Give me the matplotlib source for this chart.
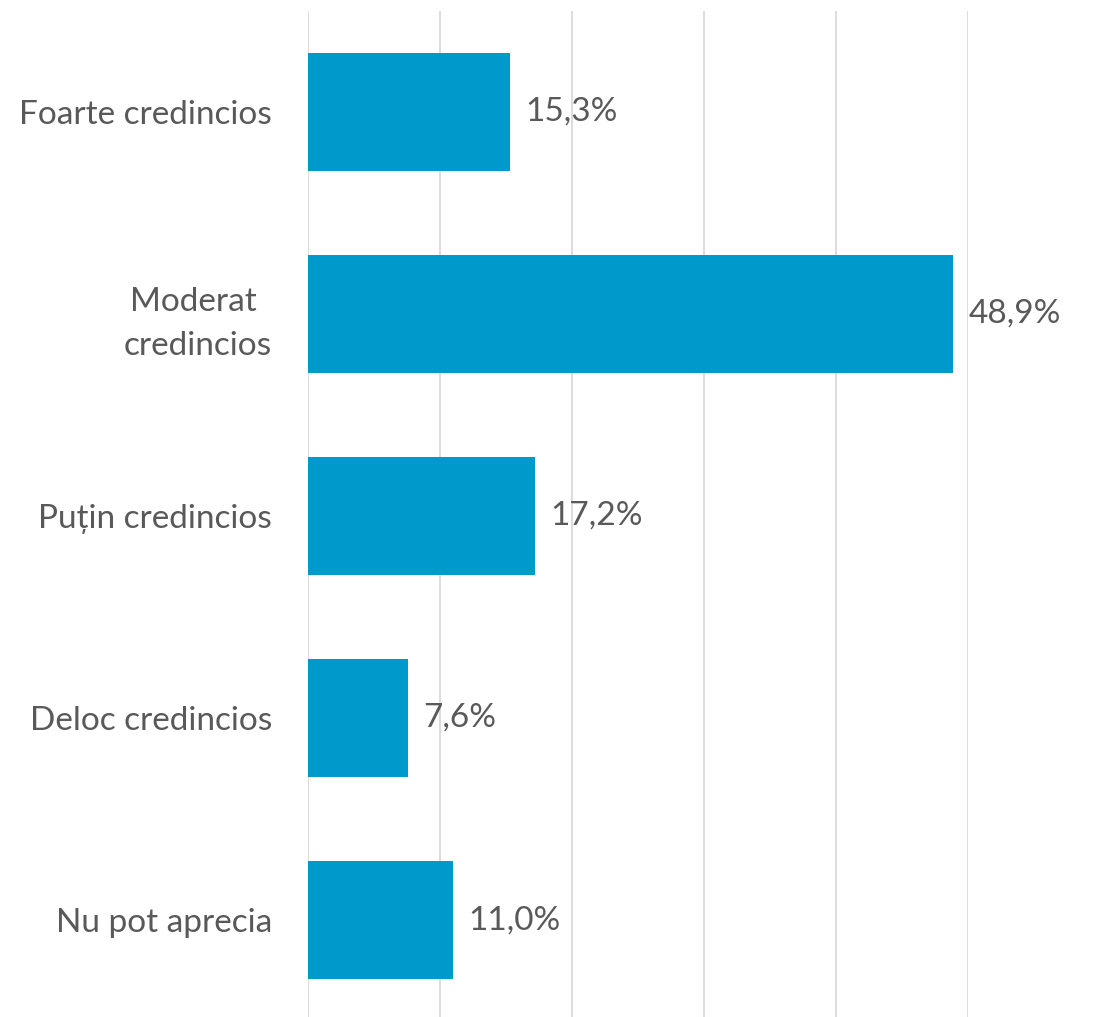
import matplotlib
matplotlib.use("Agg")
import matplotlib.pyplot as plt

categories = ["Foarte credincios", "Moderat \ncredincios", "Puțin credincios", "Deloc credincios", "Nu pot aprecia"]
values = [15.3, 48.9, 17.2, 7.6, 11.0]
value_labels = ["15,3%", "48,9%", "17,2%", "7,6%", "11,0%"]
xticks = [0, 10, 20, 30, 40, 50]

plt.rcParams['font.family'] = ['Lato', 'DejaVu Sans']
text_color = "#595959"

fig = plt.figure(figsize=(10.94, 10.17), dpi=100)
ax = fig.add_axes([308/1094, 0, 660/1094, 1 - 11/1017])

y = list(range(len(categories)))
ax.barh(y, values, height=0.58, color="#0099CC", zorder=3)
for yi, v, lab in zip(y, values, value_labels):
    ax.text(v + 1.15, yi, lab, va="center", ha="left", fontsize=24, color=text_color)

ax.set_xlim(0, 50)
ax.set_ylim(4.48, -0.5)
ax.set_xticks(xticks)
ax.set_xticklabels([])
ax.tick_params(axis="x", length=0)
ax.grid(axis="x", color="#D9D9D9", linewidth=1.3, zorder=0)
ax.set_yticks(y)
ax.set_yticklabels(categories, fontsize=24, color=text_color, ha="right",
                   multialignment="center", linespacing=1.6)
ax.tick_params(axis="y", length=0, pad=26)
for s in ax.spines.values():
    s.set_visible(False)

fig.savefig("out.png", dpi=100)
